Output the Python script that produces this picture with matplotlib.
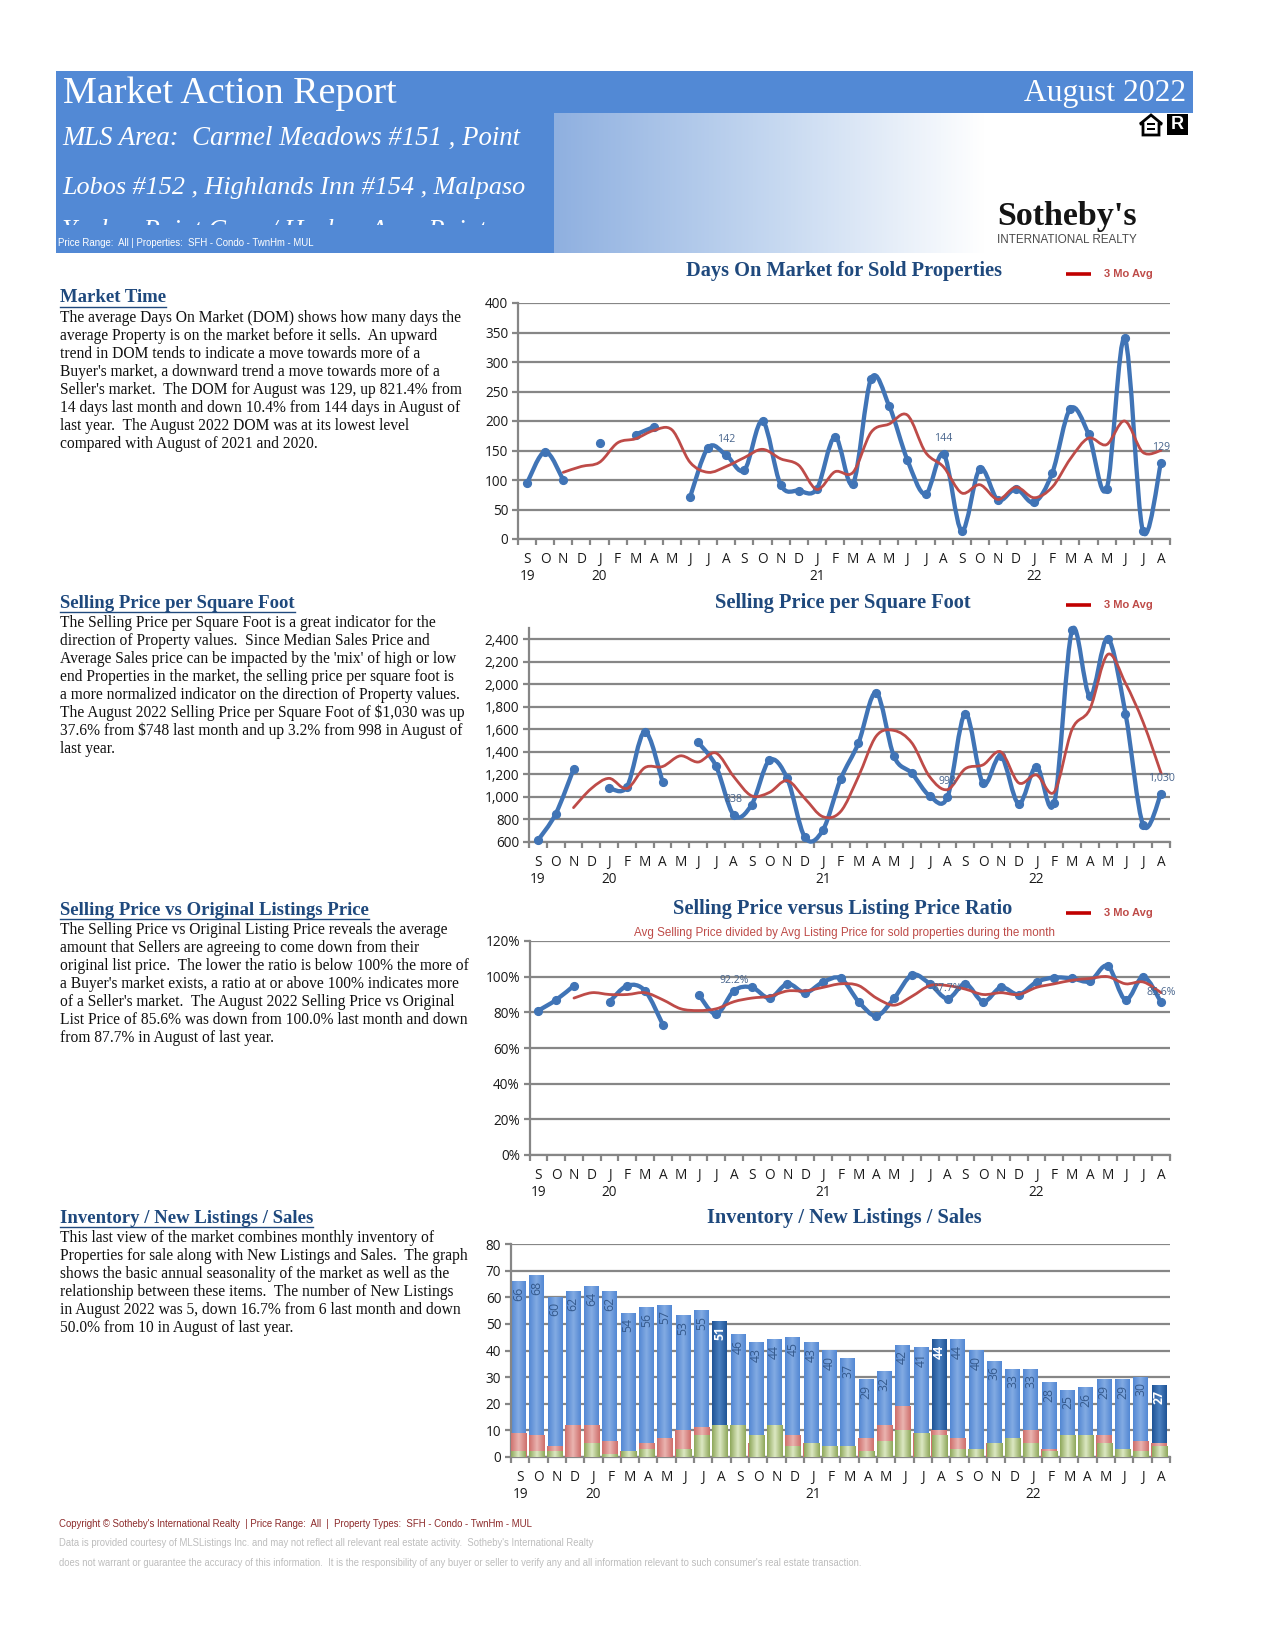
import numpy as np
from matplotlib import pyplot as plt
from matplotlib.patches import PathPatch, Polygon, Rectangle
from matplotlib.path import Path
from matplotlib.colors import LinearSegmentedColormap

W, H = 1275, 1650
nan = float('nan')

MONTHS = list('SONDJFMAMJJASONDJFMAMJJASONDJFMAMJJA')
YEARS = {0: '19', 4: '20', 16: '21', 28: '22'}

dom = [95, 148, 100, nan, 163, nan, 177, 190, nan, 71, 155, 142, 117, 200, 92, 82, 85, 173,
       94, 272, 225, 134, 76, 144, 14, 119, 66, 85, 62, 112, 221, 178, 85, 340, 14, 129]
dom_avg = [nan, nan, 113, 123, 130, 163, 170, 184, 185, 130, 113, 123, 138, 152, 136, 125, 84, 114,
           113, 181, 195, 210, 147, 122, 78, 92, 67, 88, 70, 88, 136, 171, 160, 200, 147, 150]

sqft = [615, 850, 1245, nan, 1080, 1090, 1580, 1135, nan, 1485, 1275, 838, 930, 1325, 1165, 640, 704,
        1157, 1478, 1925, 1360, 1210, 1010, 998, 1740, 1120, 1365, 940, 1270, 950, 2480, 1895, 2405,
        1740, 748, 1030]
sqft_avg = [nan, nan, 905, 1075, 1165, 1075, 1260, 1270, 1365, 1310, 1390, 1180, 1010, 1040, 1145, 985,
            825, 870, 1180, 1540, 1590, 1480, 1180, 1065, 1250, 1285, 1400, 1125, 1195, 1045, 1600,
            1780, 2265, 2010, 1660, 1210]

ratio = [81, 87, 95, nan, 86, 95, 92, 73, nan, 90, 79, 92.2, 94, 88, 96, 91, 97, 99, 86, 78, 88, 101,
         96, 87.7, 96, 86, 94, 90, 97, 99.5, 99, 97.5, 106, 87, 100, 85.6]
ratio_avg = [nan, nan, 88, 91, 90, 90, 91, 87, 82, 81, 82, 86, 88, 89, 92, 92, 94, 96, 95, 88, 84, 89,
             95, 95, 93, 90, 91, 90, 94, 96, 98, 99, 100, 96, 97, 91]

inventory = [66, 68, 60, 62, 64, 62, 54, 56, 57, 53, 55, 51, 46, 43, 44, 45, 43, 40, 37, 29, 32, 42,
             41, 44, 44, 40, 36, 33, 33, 28, 25, 26, 29, 29, 30, 27]
new_listings = [9, 8, 4, 12, 12, 6, 2, 5, 7, 10, 11, 12, 12, 5, 12, 8, 5, 4, 4, 7, 12, 19,
                9, 10, 7, 3, 5, 7, 10, 3, 8, 8, 8, 3, 6, 5]
sales = [2, 2, 2, 0, 5, 1, 2, 3, 0, 3, 8, 12, 12, 8, 12, 4, 5, 4, 4, 2, 6, 10,
         9, 8, 3, 3, 5, 7, 5, 2, 8, 8, 5, 3, 2, 4]
AUGUST_BARS = [11, 23, 35]

SECTIONS = [
    (298, 'Market Time', [
        "The average Days On Market (DOM) shows how many days the",
        "average Property is on the market before it sells.  An upward",
        "trend in DOM tends to indicate a move towards more of a",
        "Buyer's market, a downward trend a move towards more of a",
        "Seller's market.  The DOM for August was 129, up 821.4% from",
        "14 days last month and down 10.4% from 144 days in August of",
        "last year.  The August 2022 DOM was at its lowest level",
        "compared with August of 2021 and 2020."]),
    (603, 'Selling Price per Square Foot', [
        "The Selling Price per Square Foot is a great indicator for the",
        "direction of Property values.  Since Median Sales Price and",
        "Average Sales price can be impacted by the 'mix' of high or low",
        "end Properties in the market, the selling price per square foot is",
        "a more normalized indicator on the direction of Property values.",
        "The August 2022 Selling Price per Square Foot of $1,030 was up",
        "37.6% from $748 last month and up 3.2% from 998 in August of",
        "last year."]),
    (910.5, 'Selling Price vs Original Listings Price', [
        "The Selling Price vs Original Listing Price reveals the average",
        "amount that Sellers are agreeing to come down from their",
        "original list price.  The lower the ratio is below 100% the more of",
        "a Buyer's market exists, a ratio at or above 100% indicates more",
        "of a Seller's market.  The August 2022 Selling Price vs Original",
        "List Price of 85.6% was down from 100.0% last month and down",
        "from 87.7% in August of last year."]),
    (1218.5, 'Inventory / New Listings / Sales', [
        "This last view of the market combines monthly inventory of",
        "Properties for sale along with New Listings and Sales.  The graph",
        "shows the basic annual seasonality of the market as well as the",
        "relationship between these items.  The number of New Listings",
        "in August 2022 was 5, down 16.7% from 6 last month and down",
        "50.0% from 10 in August of last year."]),
]

BANNER = '#5289D5'
NAVY = '#1F497D'
GRID = '#868686'
BLUE = '#4074B6'
RED = '#BE4B48'
SERIF = 'Liberation Serif'
SANS = 'Open Sans'
ARIAL = 'Liberation Sans'

fig = plt.figure(figsize=(W / 100, H / 100), dpi=100, facecolor='white')

# page layer in pixel coordinates, everything that is not a chart goes here
page = fig.add_axes([0, 0, 1, 1], zorder=0)
page.set_xlim(0, W)
page.set_ylim(H, 0)
page.axis('off')


def axes_px(left, top, right, bottom):
    return fig.add_axes([left / W, 1 - bottom / H, (right - left) / W, (bottom - top) / H], zorder=2)


def smooth_line(ax, x, y, color, lw):
    # excel style smoothed line, one bezier run per stretch without gaps
    x = np.asarray(x, dtype=float)
    y = np.asarray(y, dtype=float)
    verts, codes = [], []
    i = 0
    while i < len(x):
        if np.isnan(y[i]):
            i += 1
            continue
        j = i
        while j + 1 < len(x) and not np.isnan(y[j + 1]):
            j += 1
        pts = np.column_stack([x[i:j + 1], y[i:j + 1]])
        if len(pts) > 1:
            verts.append(pts[0])
            codes.append(Path.MOVETO)
            for k in range(len(pts) - 1):
                p0 = pts[max(k - 1, 0)]
                p1 = pts[k]
                p2 = pts[k + 1]
                p3 = pts[min(k + 2, len(pts) - 1)]
                verts += [p1 + (p2 - p0) / 6, p2 - (p3 - p1) / 6, p2]
                codes += [Path.CURVE4] * 3
        i = j + 1
    patch = PathPatch(Path(verts, codes), fill=False, edgecolor=color, lw=lw,
                      capstyle='round', joinstyle='round', zorder=4, clip_on=False)
    ax.add_patch(patch)


def style_axes(ax, ylim, yticks, ylabels):
    ax.set_xlim(0, 36)
    ax.set_ylim(*ylim)
    ax.set_facecolor('none')
    for name in ['top', 'right']:
        ax.spines[name].set_visible(False)
    for name in ['left', 'bottom']:
        ax.spines[name].set_color(GRID)
        ax.spines[name].set_linewidth(1.6)
    ax.set_yticks(yticks)
    ax.set_yticklabels(ylabels, fontsize=9.8, family=SANS, color='#1a1a1a')
    ax.tick_params(axis='y', color=GRID, width=1.6, length=4, pad=3)
    ax.set_xticks(np.arange(36) + 0.5)
    ax.set_xticklabels([m + ('\n' + YEARS[i] if i in YEARS else '') for i, m in enumerate(MONTHS)],
                       fontsize=9.8, family=SANS, color='#1a1a1a', linespacing=1.2, va='top')
    ax.set_xticks(np.arange(37), minor=True)
    ax.tick_params(axis='x', which='major', length=0, pad=9.5)
    ax.tick_params(axis='x', which='minor', color=GRID, width=1.6, length=4)
    ax.grid(axis='y', color=GRID, lw=1.6, zorder=1)
    ax.set_axisbelow(True)


def line_chart(rect, values, avg, ylim, yticks, ylabels, labelled, fmt, off=(0, 7)):
    ax = axes_px(*rect)
    style_axes(ax, ylim, yticks, ylabels)
    x = np.arange(36) + 0.5
    smooth_line(ax, x, values, BLUE, 3.1)
    ax.plot(x, values, 'o', ls='none', color=BLUE, ms=5.6, zorder=4, clip_on=False)
    smooth_line(ax, x, avg, RED, 2.0)
    for i in labelled:
        ax.annotate(fmt(values[i]), (x[i], values[i]), xytext=off, textcoords='offset points',
                    ha='center', va='bottom', fontsize=7.6, family=SANS, color='#47648C', zorder=5,
                    annotation_clip=False)
    return ax


def legend_3mo(y):
    page.plot([1066, 1091], [y, y], color='#C00000', lw=2.6, solid_capstyle='butt')
    page.text(1104, y, '3 Mo Avg', color=RED, fontsize=8.0, family=ARIAL,
              weight='bold', va='center')


# header block
page.add_patch(Rectangle((56, 71), 1137, 42, fc=BANNER, ec='none'))
page.add_patch(Rectangle((56, 113), 498, 140, fc=BANNER, ec='none'))
fade = LinearSegmentedColormap.from_list('fade', ['#8FB0E0', '#C4D7F0', '#FFFFFF'])
page.imshow(np.linspace(0, 1, 256).reshape(1, -1), extent=(554, 985, 253, 113), cmap=fade, aspect='auto')
page.set_xlim(0, W)
page.set_ylim(H, 0)

page.text(63, 94, 'Market Action Report', color='white', family=SERIF, fontsize=27.4, va='center')
page.text(1186, 94, 'August 2022', color='white', family=SERIF, fontsize=22.8, va='center', ha='right')
page.text(62, 138, 'MLS Area:  Carmel Meadows #151 , Point', color='white', family=SERIF,
          style='italic', fontsize=19.3, va='center')
page.text(62, 188, 'Lobos #152 , Highlands Inn #154 , Malpaso', color='white', family=SERIF,
          style='italic', fontsize=18.8, va='center')
third = page.text(62, 231, 'Yankee Point Cove / Harbor Area Point', color='white', family=SERIF,
                  style='italic', fontsize=19.3, va='center')
third.set_clip_on(True)
third.set_clip_path(Rectangle((56, 113), 498, 112, transform=page.transData))
page.text(58, 243, 'Price Range:  All | Properties:  SFH - Condo - TwnHm - MUL', color='white',
          family=ARIAL, fontsize=6.9, va='center')

# equal housing and realtor marks
page.add_patch(Polygon([(1140, 124), (1151, 115), (1162, 124), (1159, 124), (1159, 135), (1143, 135), (1143, 124)],
                       fc='white', ec='black', lw=2))
page.add_patch(Rectangle((1147, 123), 8, 2, fc='black', ec='none'))
page.add_patch(Rectangle((1147, 128), 8, 2, fc='black', ec='none'))
page.add_patch(Rectangle((1167, 114), 21, 21, fc='black', ec='none'))
page.text(1177.5, 124.5, 'R', color='white', family=ARIAL, weight='bold', fontsize=13, ha='center', va='center')

page.text(997, 217, "Sotheby's", color='#141414', family=SERIF, weight='bold', fontsize=24.5, va='center')
page.text(997, 240, 'INTERNATIONAL REALTY', color='#4a4a4a', family=ARIAL, fontsize=8.4, va='center')

# left hand text
for y, head, lines in SECTIONS:
    t = page.text(60, y, head, color=NAVY, family=SERIF, weight='bold', fontsize=13.5, va='center')
    ext = t.get_window_extent(fig.canvas.get_renderer())
    page.plot([60, 60 + ext.width], [y + 8.5, y + 8.5], color=NAVY, lw=1)
    for n, line in enumerate(lines):
        page.text(60, y + 20 + 18 * n, line, color='#111111', family=SERIF, fontsize=11.2, va='center')

# chart titles
TITLE = dict(color=NAVY, family=SERIF, weight='bold', fontsize=14.7, ha='center', va='center')
page.text(844, 271, 'Days On Market for Sold Properties', **TITLE)
page.text(843, 603, 'Selling Price per Square Foot', **TITLE)
page.text(843, 909, 'Selling Price versus Listing Price Ratio', **TITLE)
page.text(844, 1218, 'Inventory / New Listings / Sales', **TITLE)
page.text(845, 933, 'Avg Selling Price divided by Avg Listing Price for sold properties during the month',
          color=RED, family=ARIAL, fontsize=8.35, ha='center', va='center')
legend_3mo(274)
legend_3mo(604.5)
legend_3mo(913)

line_chart((518, 303, 1170, 539), dom, dom_avg, (0, 400), range(0, 401, 50),
           [str(v) for v in range(0, 401, 50)], [11, 23, 35], lambda v: f'{v:.0f}')
line_chart((529, 628, 1170, 842), sqft, sqft_avg, (600, 2500), range(600, 2401, 200),
           [f'{v:,}' for v in range(600, 2401, 200)], [11, 23, 35], lambda v: f'{v:,.0f}')
line_chart((529.5, 941, 1170, 1155), ratio, ratio_avg, (0, 120), range(0, 121, 20),
           [f'{v}%' for v in range(0, 121, 20)], [11, 23, 35], lambda v: f'{v:.1f}%', off=(0, 3))

# inventory bars
ax = axes_px(511, 1244, 1170, 1457)
style_axes(ax, (0, 80), range(0, 81, 10), [str(v) for v in range(0, 81, 10)])


def gradient_bars(ax, x, values, width, colors, zorder):
    cmap = LinearSegmentedColormap.from_list('bar', colors)
    grad = np.abs(np.linspace(-1, 1, 32)).reshape(1, -1)
    bars = ax.bar(x, values, width=width, color=colors[0], zorder=zorder, linewidth=0)
    for b in bars:
        if b.get_height() > 0:
            ax.imshow(1 - grad, extent=(b.get_x(), b.get_x() + b.get_width(), 0, b.get_height()),
                      cmap=cmap, aspect='auto', zorder=zorder, vmin=0, vmax=1)
    return bars


xs = np.arange(36) + 0.4
plain = [i for i in range(36) if i not in AUGUST_BARS]
gradient_bars(ax, xs[plain], np.array(inventory)[plain], 0.81, ['#5388D4', '#83ABE3'], 2)
gradient_bars(ax, xs[AUGUST_BARS], np.array(inventory)[AUGUST_BARS], 0.81, ['#1F5496', '#4A80C0'], 2)
gradient_bars(ax, xs, new_listings, 0.86, ['#CE6F6C', '#EAB4B0'], 3)
gradient_bars(ax, xs, sales, 0.82, ['#8FA85C', '#DCE8C2'], 4)
ax.set_xlim(0, 36)
ax.set_ylim(0, 80)
for i, v in enumerate(inventory):
    ax.text(xs[i], v - 1.9, str(v), rotation=90, ha='center', va='top', fontsize=8.8, family=SANS,
            color='white' if i in AUGUST_BARS else '#34598C', zorder=5,
            weight='bold' if i in AUGUST_BARS else 'normal')

# footer
page.text(59, 1524, "Copyright \u00a9 Sotheby's International Realty  | Price Range:  All  |  Property Types:  SFH - Condo - TwnHm - MUL",
          color='#8C2A2A', family=ARIAL, fontsize=6.9, va='center')
page.text(59, 1543, 'Data is provided courtesy of MLSListings Inc. and may not reflect all relevant real estate activity.  Sotheby\'s International Realty',
          color='#BDBDBD', family=ARIAL, fontsize=6.85, va='center')
page.text(59, 1562.5, 'does not warrant or guarantee the accuracy of this information.  It is the responsibility of any buyer or seller to verify any and all information relevant to such consumer\'s real estate transaction.',
          color='#BDBDBD', family=ARIAL, fontsize=6.85, va='center')

fig.savefig('out.png', dpi=100)
